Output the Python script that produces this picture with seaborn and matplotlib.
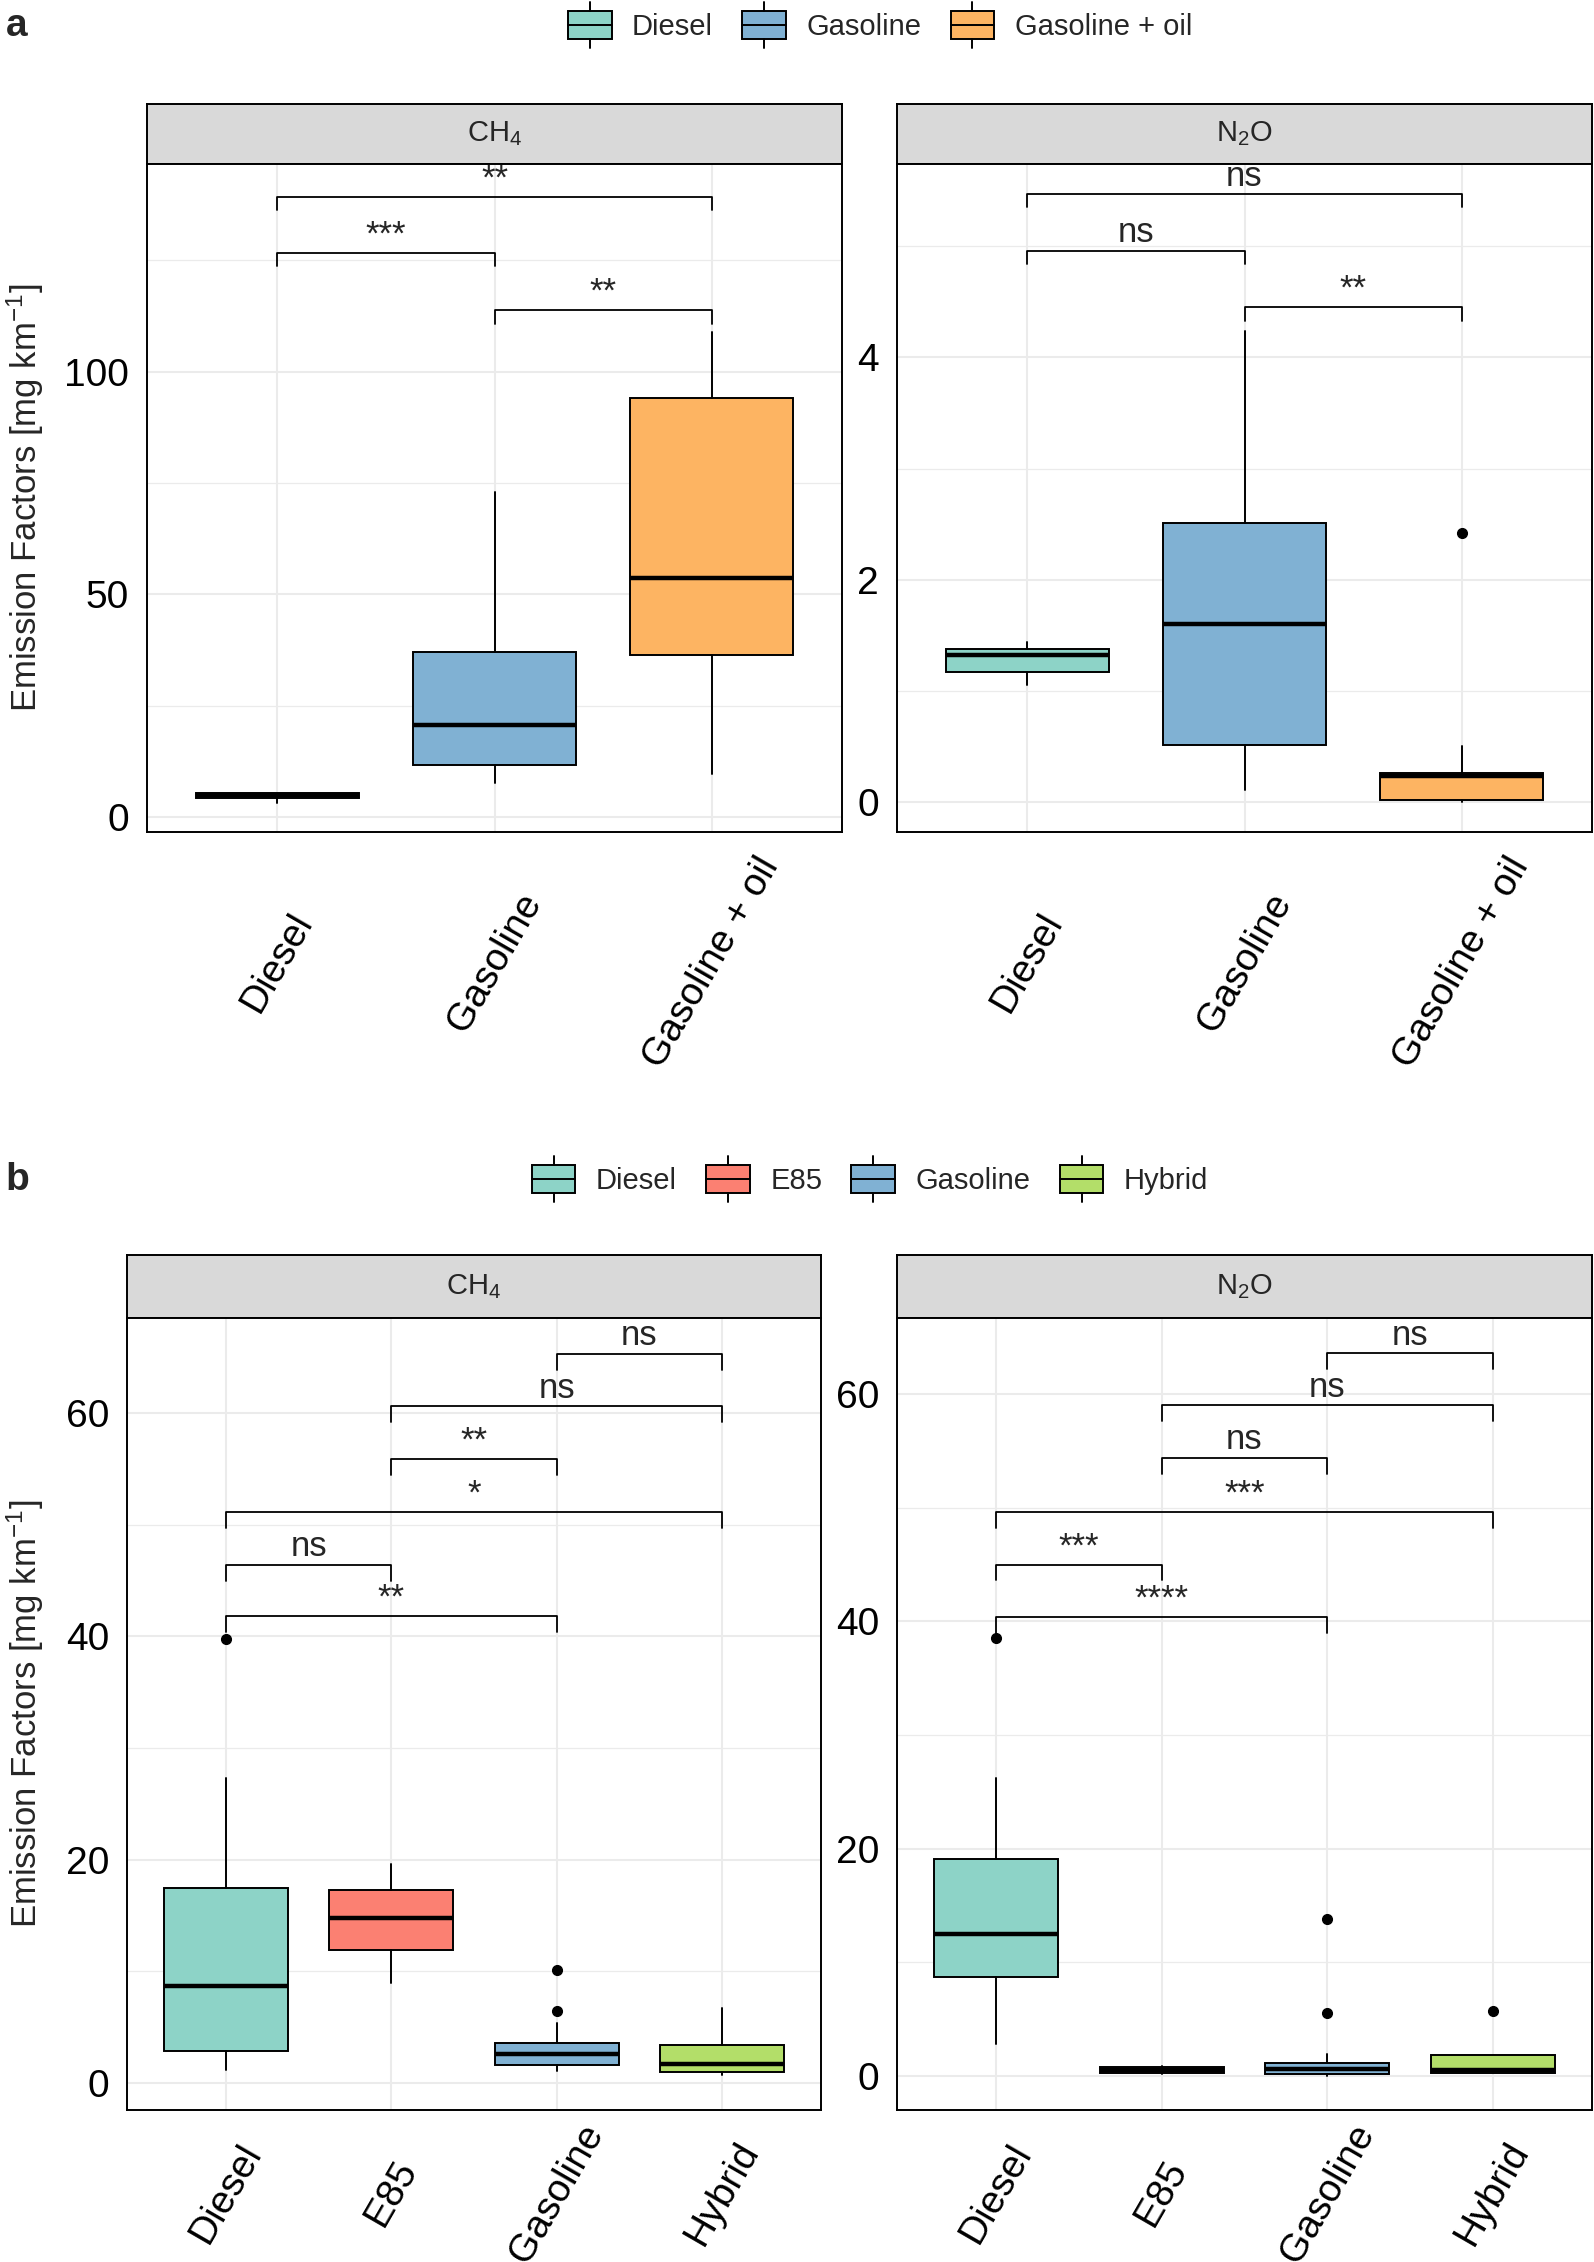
"""
Boxplots of CH4 and N2O emission factors by fuel type (panels a and b),
with pairwise significance brackets.
"""

import matplotlib
matplotlib.use('Agg')
import matplotlib.pyplot as plt
from matplotlib.legend_handler import HandlerBase
from matplotlib.patches import Patch, Rectangle
from matplotlib.lines import Line2D
import seaborn as sns

W, H = 1594, 2262

# ---- data ------------------------------------------------------------------
A_FUELS = ['Diesel', 'Gasoline', 'Gasoline + oil']
B_FUELS = ['Diesel', 'E85', 'Gasoline', 'Hybrid']

# panel a, CH4
a_ch4_lo = [3.2, 7.6, 9.8]
a_ch4_q1 = [4.3, 11.7, 36.5]
a_ch4_med = [4.9, 20.8, 53.6]
a_ch4_q3 = [5.5, 37.1, 94.1]
a_ch4_hi = [5.5, 73.1, 108.8]
a_ch4_out = [[], [], []]

# panel a, N2O
a_n2o_lo = [1.05, 0.11, 0.0]
a_n2o_q1 = [1.17, 0.51, 0.02]
a_n2o_med = [1.32, 1.60, 0.23]
a_n2o_q3 = [1.38, 2.51, 0.26]
a_n2o_hi = [1.44, 4.24, 0.50]
a_n2o_out = [[], [], [2.42]]

# panel b, CH4
b_ch4_lo = [1.2, 9.0, 1.1, 0.7]
b_ch4_q1 = [2.9, 11.9, 1.6, 1.0]
b_ch4_med = [8.7, 14.8, 2.6, 1.7]
b_ch4_q3 = [17.5, 17.3, 3.6, 3.4]
b_ch4_hi = [27.3, 19.6, 5.4, 6.7]
b_ch4_out = [[39.8], [], [10.1, 6.45], []]

# panel b, N2O
b_n2o_lo = [2.8, 0.2, 0.0, 0.3]
b_n2o_q1 = [8.7, 0.3, 0.2, 0.3]
b_n2o_med = [12.5, 0.5, 0.6, 0.5]
b_n2o_q3 = [19.1, 0.8, 1.1, 1.8]
b_n2o_hi = [26.2, 0.9, 1.9, 1.8]
b_n2o_out = [[38.5], [], [13.8, 5.5], [5.7]]

# significance brackets
a_pairs = [(0, 2), (0, 1), (1, 2)]
a_ch4_sig_y = [139.2, 126.6, 113.8]
a_ch4_sig = ['**', '***', '**']
a_n2o_sig_y = [5.47, 4.96, 4.45]
a_n2o_sig = ['ns', 'ns', '**']

b_pairs = [(2, 3), (1, 3), (1, 2), (0, 3), (0, 1), (0, 2)]
b_ch4_sig_y = [65.3, 60.6, 55.9, 51.1, 46.4, 41.8]
b_ch4_sig = ['ns', 'ns', '**', '*', 'ns', '**']
b_n2o_sig_y = [63.6, 59.0, 54.4, 49.6, 45.0, 40.4]
b_n2o_sig = ['ns', 'ns', 'ns', '***', '***', '****']

# ---- style -----------------------------------------------------------------
sns.set_style('white')
plt.rcParams['font.family'] = ['Liberation Sans', 'DejaVu Sans']
plt.rcParams['mathtext.fontset'] = 'custom'
plt.rcParams['mathtext.rm'] = 'Liberation Sans'
plt.rcParams['mathtext.it'] = 'Liberation Sans:italic'
plt.rcParams['mathtext.bf'] = 'Liberation Sans:bold'

set3 = sns.color_palette('Set3')
COLORS = {'Diesel': set3[0], 'E85': set3[3], 'Gasoline': set3[4],
          'Gasoline + oil': set3[5], 'Hybrid': set3[6]}

LW = 1.4
GRID = '#EBEBEB'
TICK_LEN = 7


class BoxKey(HandlerBase):
    """Legend key that looks like a small boxplot."""

    def create_artists(self, legend, orig_handle, xdescent, ydescent,
                       width, height, fontsize, trans):
        x0, y0 = -xdescent, -ydescent
        cx = x0 + width / 2
        wl = height * 0.32
        rect = Rectangle((x0, y0), width, height, facecolor=orig_handle.get_facecolor(),
                         edgecolor='black', linewidth=LW, transform=trans)
        mid = Line2D([x0, x0 + width], [y0 + height / 2] * 2, color='black', lw=LW, transform=trans)
        top = Line2D([cx, cx], [y0 + height, y0 + height + wl], color='black', lw=LW, transform=trans)
        bot = Line2D([cx, cx], [y0 - wl, y0], color='black', lw=LW, transform=trans)
        return [rect, mid, top, bot]


def px_axes(fig, l, t, r, b):
    return fig.add_axes([l / W, 1 - b / H, (r - l) / W, (b - t) / H])


def add_strip(fig, l, t, r, b, label):
    sax = px_axes(fig, l, t, r, b)
    sax.set_facecolor('#D9D9D9')
    sax.set_xticks([])
    sax.set_yticks([])
    for s in sax.spines.values():
        s.set_color('black')
        s.set_linewidth(LW)
    sax.text(0.5, 0.5, label, ha='center', va='center', fontsize=21, transform=sax.transAxes)
    sax.set_zorder(0)


def draw_panel(ax, fuels, lo, q1, med, q3, hi, out, pairs, sig_y, sig,
               ylim, yticks, yminor, xpad):
    stats = [dict(whislo=lo[i], q1=q1[i], med=med[i], q3=q3[i], whishi=hi[i], fliers=out[i])
             for i in range(len(fuels))]
    bp = ax.bxp(stats, positions=list(range(len(fuels))), widths=0.75, patch_artist=True,
                showcaps=False,
                boxprops=dict(edgecolor='black', linewidth=LW),
                medianprops=dict(color='black', linewidth=3.2, solid_capstyle='butt'),
                whiskerprops=dict(color='black', linewidth=LW),
                flierprops=dict(marker='o', markerfacecolor='black', markeredgecolor='black',
                                markersize=7))
    for patch, f in zip(bp['boxes'], fuels):
        patch.set_facecolor(COLORS[f])

    tip = 0.02 * (ylim[1] - ylim[0])
    for (i, j), y, lab in zip(pairs, sig_y, sig):
        ax.plot([i, i, j, j], [y - tip, y, y, y - tip], color='black', lw=1.3)
        ax.annotate(lab, xy=((i + j) / 2, y), xytext=(0, 1), textcoords='offset points',
                    ha='center', va='bottom', fontsize=25, annotation_clip=False)

    ax.set_xlim(-0.6, len(fuels) - 0.4)
    ax.set_ylim(*ylim)
    ax.set_yticks(yticks)
    ax.set_yticks(yminor, minor=True)
    ax.set_xticks(range(len(fuels)))
    # labels centred under their tick, all on one centre line (ggplot angle=60, just=0.5)
    ax.set_xticklabels(fuels, rotation=60, ha='center', va='center')
    ax.set_axisbelow(True)
    ax.grid(which='major', color=GRID, lw=1.5)
    ax.grid(which='minor', axis='y', color=GRID, lw=0.9)
    ax.tick_params(which='major', length=TICK_LEN, width=1.3, color='black', labelsize=28,
                   labelcolor='black')
    ax.tick_params(axis='y', pad=6)
    ax.tick_params(axis='x', pad=xpad)
    ax.tick_params(which='minor', length=0)
    for s in ax.spines.values():
        s.set_color('black')
        s.set_linewidth(LW)
    ax.set_zorder(1)


def main():
    fig = plt.figure(figsize=(W / 100, H / 100), dpi=100)
    ylab = 'Emission Factors [mg km$^{-1}$]'

    # ---- panel a ----
    ax = px_axes(fig, 147, 164, 842, 832)
    draw_panel(ax, A_FUELS, a_ch4_lo, a_ch4_q1, a_ch4_med, a_ch4_q3, a_ch4_hi, a_ch4_out,
               a_pairs, a_ch4_sig_y, a_ch4_sig, (-3.3, 146.6), [0, 50, 100], [25, 75, 125], 87)
    add_strip(fig, 147, 104, 842, 164, 'CH$_4$')

    ax = px_axes(fig, 897, 164, 1592, 832)
    draw_panel(ax, A_FUELS, a_n2o_lo, a_n2o_q1, a_n2o_med, a_n2o_q3, a_n2o_hi, a_n2o_out,
               a_pairs, a_n2o_sig_y, a_n2o_sig, (-0.27, 5.74), [0, 2, 4], [1, 3, 5], 87)
    add_strip(fig, 897, 104, 1592, 164, 'N$_2$O')

    fig.text(25 / W, 1 - 498 / H, ylab, rotation=90, ha='center', va='center', fontsize=25)
    fig.text(17 / W, 1 - 26 / H, 'a', fontsize=28, fontweight='bold', ha='center', va='center')
    handles = [Patch(facecolor=COLORS[f], edgecolor='black') for f in A_FUELS]
    fig.legend(handles, A_FUELS, handler_map={Patch: BoxKey()}, loc='center',
               bbox_to_anchor=(880 / W, 1 - 26 / H), ncol=3, frameon=False, fontsize=21,
               handlelength=1.5, handleheight=1.1, handletextpad=0.7, columnspacing=1.0)

    # ---- panel b ----
    ax = px_axes(fig, 127, 1318, 821, 2110)
    draw_panel(ax, B_FUELS, b_ch4_lo, b_ch4_q1, b_ch4_med, b_ch4_q3, b_ch4_hi, b_ch4_out,
               b_pairs, b_ch4_sig_y, b_ch4_sig, (-2.4, 68.5), [0, 20, 40, 60], [10, 30, 50], 53)
    add_strip(fig, 127, 1255, 821, 1318, 'CH$_4$')

    ax = px_axes(fig, 897, 1318, 1592, 2110)
    draw_panel(ax, B_FUELS, b_n2o_lo, b_n2o_q1, b_n2o_med, b_n2o_q3, b_n2o_hi, b_n2o_out,
               b_pairs, b_n2o_sig_y, b_n2o_sig, (-3.0, 66.7), [0, 20, 40, 60], [10, 30, 50], 53)
    add_strip(fig, 897, 1255, 1592, 1318, 'N$_2$O')

    fig.text(25 / W, 1 - 1714 / H, ylab, rotation=90, ha='center', va='center', fontsize=25)
    fig.text(17 / W, 1 - 1180 / H, 'b', fontsize=28, fontweight='bold', ha='center', va='center')
    handles = [Patch(facecolor=COLORS[f], edgecolor='black') for f in B_FUELS]
    fig.legend(handles, B_FUELS, handler_map={Patch: BoxKey()}, loc='center',
               bbox_to_anchor=(870 / W, 1 - 1180 / H), ncol=4, frameon=False, fontsize=21,
               handlelength=1.5, handleheight=1.1, handletextpad=0.7, columnspacing=1.0)

    fig.savefig('out.png', dpi=100)
    plt.close(fig)


if __name__ == '__main__':
    main()
